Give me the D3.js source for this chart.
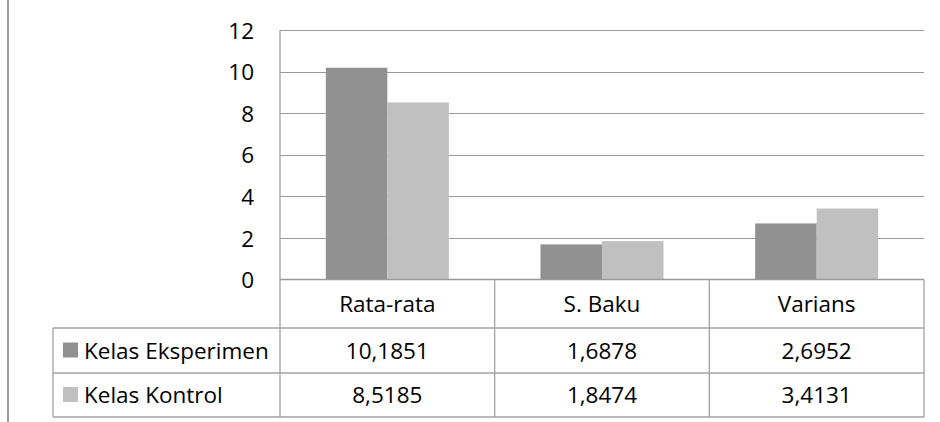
<!DOCTYPE html>
<html>
<head>
<meta charset="utf-8">
<script src="https://cdn.jsdelivr.net/npm/d3@7"></script>
<style>
html,body{margin:0;padding:0;background:#fff;}
svg{display:block;}
text{font-family:"Open Sans",sans-serif;fill:#000;}
</style>
</head>
<body>
<svg id="chart" width="940" height="422"></svg>
<script>
const categories = ["Rata-rata", "S. Baku", "Varians"];
const seriesNames = ["Kelas Eksperimen", "Kelas Kontrol"];
const eksperimen = [10.1851, 1.6878, 2.6952];
const kontrol = [8.5185, 1.8474, 3.4131];
const tableEksperimen = ["10,1851", "1,6878", "2,6952"];
const tableKontrol = ["8,5185", "1,8474", "3,4131"];
const yTicks = [0, 2, 4, 6, 8, 10, 12];
const colors = ["#919191", "#c0c0c0"];

const series = [
  {name: seriesNames[0], values: eksperimen, labels: tableEksperimen, color: colors[0]},
  {name: seriesNames[1], values: kontrol, labels: tableKontrol, color: colors[1]}
];

const svg = d3.select("#chart");
const W = 940, H = 422;
const plotL = 280, plotR = 924, plotT = 30, plotB = 279.5;
const rowH = [plotB, 328, 373, 417];
const tableL = 53;
const fs = 22.5;
const lineCol = "#a3a3a3";

// outer left border line
svg.append("line").attr("x1", 8).attr("x2", 8).attr("y1", 0).attr("y2", H)
  .attr("stroke", "#9c9c9c").attr("stroke-width", 2);

const y = d3.scaleLinear().domain([0, 12]).range([plotB, plotT]);
const x = d3.scaleBand().domain(categories).range([plotL, plotR]).paddingInner(0).paddingOuter(0);
const x1 = d3.scaleBand().domain(seriesNames).range([0, x.bandwidth()]).paddingInner(0).paddingOuter(0.745);

// gridlines
svg.append("g").selectAll("line").data(yTicks.filter(t => t > 0)).join("line")
  .attr("x1", plotL).attr("x2", plotR)
  .attr("y1", d => Math.round(y(d)) + 0.5).attr("y2", d => Math.round(y(d)) + 0.5)
  .attr("stroke", "#999").attr("stroke-width", 1.2);

// y axis labels
const yAxis = d3.axisLeft(y).tickValues(yTicks).tickSize(0).tickPadding(26).tickFormat(d3.format("d"));
const ya = svg.append("g").attr("transform", `translate(${plotL},0)`).call(yAxis);
ya.select(".domain").remove();
ya.selectAll("text").attr("font-size", fs).attr("font-family", "Open Sans").attr("fill", "#000").attr("dy", "0.36em");

// bars
const groups = svg.append("g").selectAll("g").data(series).join("g").attr("fill", d => d.color);
groups.selectAll("rect").data(s => s.values.map((v, i) => ({v, cat: categories[i], name: s.name}))).join("rect")
  .attr("x", d => x(d.cat) + x1(d.name))
  .attr("width", x1.bandwidth())
  .attr("y", d => y(d.v))
  .attr("height", d => y(0) - y(d.v));

// table lines
const tl = svg.append("g").attr("stroke", lineCol).attr("stroke-width", 1.3).attr("fill", "none");
tl.append("line").attr("x1", plotL).attr("x2", plotR).attr("y1", rowH[0]).attr("y2", rowH[0]).attr("stroke", "#999");
[rowH[1], rowH[2], rowH[3]].forEach(yy => {
  tl.append("line").attr("x1", tableL).attr("x2", plotR).attr("y1", yy).attr("y2", yy);
});
tl.append("line").attr("x1", plotL).attr("x2", plotL).attr("y1", plotT).attr("y2", rowH[3]);
tl.append("line").attr("x1", tableL).attr("x2", tableL).attr("y1", rowH[1]).attr("y2", rowH[3]);
categories.forEach(c => {
  const xx = x(c) + x.bandwidth();
  tl.append("line").attr("x1", xx).attr("x2", xx).attr("y1", rowH[0]).attr("y2", rowH[3]);
});

// category labels
svg.append("g").selectAll("text").data(categories).join("text")
  .attr("x", d => x(d) + x.bandwidth() / 2)
  .attr("y", (rowH[0] + rowH[1]) / 2)
  .attr("dy", "0.36em").attr("text-anchor", "middle").attr("font-size", fs)
  .text(d => d);

// series rows
series.forEach((s, r) => {
  const top = rowH[r + 1], bot = rowH[r + 2], cy = (top + bot) / 2;
  svg.append("rect").attr("x", 63).attr("y", cy - 8).attr("width", 15).attr("height", 15).attr("fill", s.color);
  svg.append("text").attr("x", 84).attr("y", cy).attr("dy", "0.36em").attr("font-size", fs).text(s.name);
  svg.append("g").selectAll("text").data(s.labels).join("text")
    .attr("x", (d, i) => x(categories[i]) + x.bandwidth() / 2)
    .attr("y", cy).attr("dy", "0.36em").attr("text-anchor", "middle").attr("font-size", fs)
    .text(d => d);
});
</script>
</body>
</html>
